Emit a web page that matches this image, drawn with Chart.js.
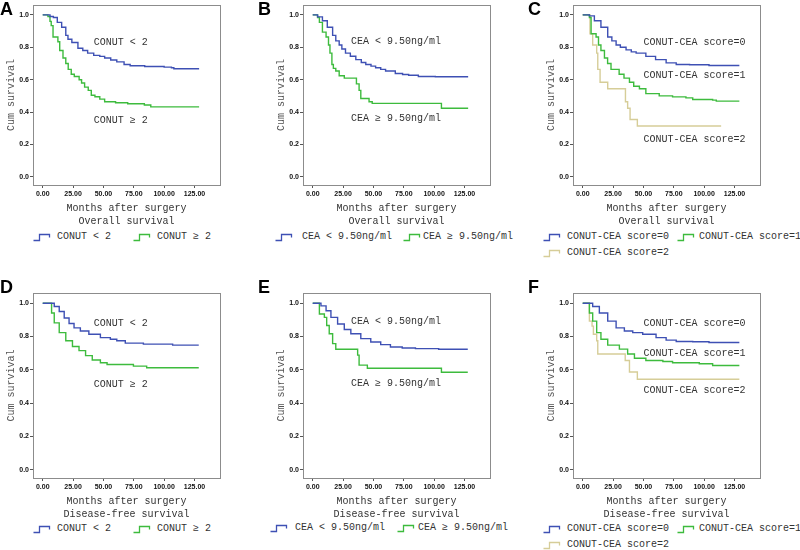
<!DOCTYPE html>
<html>
<head>
<meta charset="utf-8">
<script src="https://cdn.jsdelivr.net/npm/chart.js@4.4.1/dist/chart.umd.min.js"></script>
<style>
  body { margin: 0; background: #fff; }
  #wrap { position: relative; width: 800px; height: 550px; overflow: hidden; }
  canvas { position: absolute; }
  .letter { position: absolute; font: bold 18px "Liberation Sans", Arial, sans-serif; line-height: 18px; color: #000; }
  .leg { position: absolute; font: 10px "Liberation Mono", "Noto Sans CJK SC", monospace; color: #333; white-space: nowrap; line-height: 12px; }
  .leg svg { position: absolute; left: 0; top: 2px; }
  .leg span { position: absolute; white-space: nowrap; }
</style>
</head>
<body>
<div id="wrap">
  <canvas id="cA" width="222" height="228" style="left:0px;top:0px"></canvas>
  <canvas id="cB" width="222" height="228" style="left:270px;top:0px"></canvas>
  <canvas id="cC" width="222" height="228" style="left:540px;top:0px"></canvas>
  <canvas id="cD" width="222" height="233" style="left:0px;top:288px"></canvas>
  <canvas id="cE" width="222" height="233" style="left:270px;top:288px"></canvas>
  <canvas id="cF" width="222" height="233" style="left:540px;top:288px"></canvas>
</div>
<script>
// axis ticks
const xTicks = [0, 25, 50, 75, 100, 125];
const yTicks = [0, 0.2, 0.4, 0.6, 0.8, 1.0];

// group labels
const conutLabels = ['CONUT < 2', 'CONUT \u2265 2'];
const ceaLabels = ['CEA < 9.50ng/ml', 'CEA \u2265 9.50ng/ml'];
const scoreLabels = ['CONUT-CEA score=0', 'CONUT-CEA score=1', 'CONUT-CEA score=2'];

// A: overall survival by CONUT
const osConutLowT = [0, 6, 8.8, 12, 15.6, 19, 20.8, 24, 29, 33, 37, 42, 47, 51, 56, 61, 67, 72, 84, 100, 106, 108, 128.8];
const osConutLowS = [1, 0.99, 0.984, 0.954, 0.924, 0.874, 0.85, 0.83, 0.794, 0.78, 0.764, 0.75, 0.744, 0.734, 0.722, 0.71, 0.694, 0.686, 0.682, 0.678, 0.674, 0.668, 0.668];
const osConutHighT = [0, 4.3, 6, 7, 8.5, 12.5, 14, 16.7, 19, 21, 23.5, 26, 30, 32, 34.5, 37.5, 40, 43, 47, 51, 60, 70, 83.7, 89, 128.8];
const osConutHighS = [1, 0.99, 0.96, 0.934, 0.864, 0.834, 0.78, 0.734, 0.7, 0.664, 0.634, 0.62, 0.6, 0.58, 0.554, 0.534, 0.504, 0.495, 0.48, 0.464, 0.458, 0.452, 0.444, 0.432, 0.432];

// B: overall survival by CEA
const osCeaLowT = [0, 4, 8, 12, 16.4, 19, 21.8, 24, 27, 31, 35.5, 40, 43.7, 48, 51.8, 56, 60, 68, 74, 79, 87, 101, 128];
const osCeaLowS = [1, 0.988, 0.964, 0.924, 0.874, 0.84, 0.814, 0.79, 0.764, 0.745, 0.724, 0.706, 0.694, 0.684, 0.674, 0.664, 0.654, 0.638, 0.632, 0.628, 0.62, 0.618, 0.618];
const osCeaHighT = [0, 4, 5.5, 8, 11, 13, 14.2, 15.8, 17, 19, 21.8, 26, 34, 36, 38.2, 39.6, 46.4, 49, 105, 106, 128];
const osCeaHighS = [1, 0.984, 0.954, 0.894, 0.864, 0.814, 0.764, 0.694, 0.67, 0.654, 0.624, 0.61, 0.61, 0.574, 0.534, 0.484, 0.464, 0.454, 0.454, 0.424, 0.424];

// C: overall survival by CONUT-CEA score
const osScore0T = [0, 5.5, 9.6, 15, 20.6, 24, 27.5, 31, 35.7, 40, 44, 52, 60, 68.7, 77, 88, 104, 129];
const osScore0S = [1, 0.994, 0.964, 0.924, 0.864, 0.84, 0.814, 0.8, 0.784, 0.772, 0.764, 0.744, 0.724, 0.704, 0.694, 0.692, 0.688, 0.688];
const osScore1T = [0, 5.5, 6.9, 11, 13, 15, 17.9, 20.5, 23.3, 30, 34, 38.5, 42, 46.7, 52, 63, 74, 85, 90.6, 107, 110, 129];
const osScore1S = [1, 0.984, 0.884, 0.864, 0.814, 0.78, 0.734, 0.7, 0.664, 0.634, 0.61, 0.584, 0.56, 0.544, 0.514, 0.5, 0.494, 0.488, 0.478, 0.474, 0.468, 0.468];
const osScore2T = [0, 5.5, 6, 8.2, 11.5, 12.4, 14.3, 20.6, 35.2, 37, 39, 45, 114];
const osScore2S = [1, 1, 0.884, 0.814, 0.764, 0.664, 0.584, 0.544, 0.464, 0.424, 0.354, 0.314, 0.314];

// D: disease-free survival by CONUT
const dfsConutLowT = [0, 5.4, 9.5, 13.6, 17.7, 21.7, 25.8, 31, 38, 47.5, 55.7, 61, 68, 82.9, 107, 128.5];
const dfsConutLowS = [1, 1, 0.98, 0.95, 0.911, 0.878, 0.852, 0.833, 0.813, 0.793, 0.783, 0.774, 0.76, 0.754, 0.748, 0.748];
const dfsConutHighT = [0, 6, 7.3, 9.5, 13.6, 19, 24.5, 29.9, 35.3, 40.8, 47.5, 53, 74.7, 85.6, 128.5];
const dfsConutHighS = [1, 1, 0.941, 0.882, 0.823, 0.774, 0.74, 0.715, 0.685, 0.659, 0.642, 0.632, 0.622, 0.612, 0.612];

// E: disease-free survival by CEA
const dfsCeaLowT = [0, 4, 6.8, 11, 15, 20.5, 26, 31.4, 39.6, 47.8, 56, 64, 73.7, 84.6, 103.7, 127.7];
const dfsCeaLowS = [1, 1, 0.984, 0.955, 0.915, 0.875, 0.842, 0.816, 0.787, 0.767, 0.751, 0.737, 0.731, 0.727, 0.723, 0.723];
const dfsCeaHighT = [0, 5, 5.5, 9.6, 11.5, 13.6, 16.4, 19, 37, 38.2, 45, 105, 106, 127.7];
const dfsCeaHighS = [1, 1, 0.935, 0.915, 0.866, 0.816, 0.757, 0.723, 0.688, 0.628, 0.609, 0.609, 0.585, 0.585];

// F: disease-free survival by CONUT-CEA score
const dfsScore0T = [0, 5, 8.2, 13.7, 20.6, 27.5, 34.3, 41.2, 49.4, 60.4, 68.7, 77, 90.6, 104, 129];
const dfsScore0S = [1, 1, 0.98, 0.941, 0.892, 0.852, 0.833, 0.823, 0.813, 0.793, 0.778, 0.77, 0.768, 0.764, 0.764];
const dfsScore1T = [0, 5, 5.5, 8.2, 11.5, 15, 20.6, 30.2, 37, 42.6, 52, 66, 74, 96, 107, 129];
const dfsScore1S = [1, 1, 0.941, 0.892, 0.823, 0.783, 0.748, 0.724, 0.695, 0.669, 0.656, 0.65, 0.642, 0.636, 0.626, 0.626];
const dfsScore2T = [0, 5, 5.5, 7.7, 8.8, 11.5, 12.4, 35, 38.5, 45, 129];
const dfsScore2S = [1, 1, 0.892, 0.862, 0.813, 0.774, 0.695, 0.656, 0.587, 0.543, 0.543];

const BLUE = '#3e50b4';
const GREEN = '#3dbb3d';
const TAN = '#d6cd98';
const colors = [BLUE, GREEN, TAN];
const monoFont = '"Liberation Mono", "Noto Sans CJK SC", monospace';

function pts(t, s) { return t.map((v, i) => ({ x: v, y: s[i] })); }

function makePanel(id, curves, labels, notes, title) {
  const datasets = curves.map((c, i) => ({
    label: labels[i],
    data: pts(c[0], c[1]),
    borderColor: colors[i],
    borderWidth: 1.4,
    pointRadius: 0,
    stepped: 'before',
    fill: false
  }));
  const framePlugin = {
    id: 'frame',
    beforeDatasetsDraw(chart) {
      const a = chart.chartArea, ctx = chart.ctx;
      ctx.save();
      ctx.strokeStyle = '#8c8c8c';
      ctx.lineWidth = 1;
      ctx.strokeRect(Math.round(a.left) + 0.5, Math.round(a.top) + 0.5, Math.round(a.right - a.left), Math.round(a.bottom - a.top));
      ctx.restore();
    },
    afterDatasetsDraw(chart) {
      const ctx = chart.ctx, xs = chart.scales.x, ys = chart.scales.y;
      ctx.save();
      ctx.font = '10px ' + monoFont;
      ctx.fillStyle = '#333';
      ctx.textBaseline = 'middle';
      notes.forEach(n => ctx.fillText(n[0], xs.getPixelForValue(n[1]), ys.getPixelForValue(n[2])));
      ctx.restore();
    }
  };
  new Chart(document.getElementById(id), {
    type: 'line',
    data: { datasets },
    options: {
      responsive: false,
      animation: false,
      events: [],
      layout: { padding: { top: 1, left: 0, right: 2, bottom: 0 } },
      plugins: { legend: { display: false }, tooltip: { enabled: false } },
      scales: {
        x: {
          type: 'linear', min: -8, max: 146,
          afterBuildTicks: s => { s.ticks = xTicks.map(v => ({ value: v })); },
          afterFit: s => { s.height = 43; },
          grid: { drawOnChartArea: false, drawTicks: true, tickLength: 3, color: '#555' },
          border: { display: false },
          ticks: { autoSkip: false, maxRotation: 0, padding: 2, color: '#111',
            font: { family: '"Liberation Sans", Arial', size: 7, weight: 'bold' },
            callback: v => Number(v).toFixed(2) },
          title: { display: true, text: ['Months after surgery', title], color: '#333',
            font: { family: monoFont, size: 10, lineHeight: 1.3 }, padding: { top: 0, bottom: 0 } }
        },
        y: {
          type: 'linear', min: -0.05, max: 1.06,
          afterBuildTicks: s => { s.ticks = yTicks.map(v => ({ value: v })); },
          afterFit: s => { s.width = 33; },
          grid: { drawOnChartArea: false, drawTicks: true, tickLength: 3, color: '#555' },
          border: { display: false },
          ticks: { padding: 1, color: '#111',
            font: { family: '"Liberation Sans", Arial', size: 7, weight: 'bold' },
            callback: v => Number(v).toFixed(1) },
          title: { display: true, text: 'Cum survival', color: '#555',
            font: { family: monoFont, size: 10, lineHeight: 1.3 }, padding: { top: 5, bottom: 0 } }
        }
      }
    },
    plugins: [framePlugin]
  });
}

makePanel('cA', [[osConutLowT, osConutLowS], [osConutHighT, osConutHighS]], conutLabels,
  [[conutLabels[0], 42, 0.83], [conutLabels[1], 42, 0.35]], 'Overall survival');
makePanel('cB', [[osCeaLowT, osCeaLowS], [osCeaHighT, osCeaHighS]], ceaLabels,
  [[ceaLabels[0], 31.5, 0.838], [ceaLabels[1], 31.5, 0.36]], 'Overall survival');
makePanel('cC', [[osScore0T, osScore0S], [osScore1T, osScore1S], [osScore2T, osScore2S]], scoreLabels,
  [[scoreLabels[0], 50, 0.83], [scoreLabels[1], 50, 0.624], [scoreLabels[2], 50, 0.23]], 'Overall survival');
makePanel('cD', [[dfsConutLowT, dfsConutLowS], [dfsConutHighT, dfsConutHighS]], conutLabels,
  [[conutLabels[0], 42, 0.877], [conutLabels[1], 42, 0.513]], 'Disease-free survival');
makePanel('cE', [[dfsCeaLowT, dfsCeaLowS], [dfsCeaHighT, dfsCeaHighS]], ceaLabels,
  [[ceaLabels[0], 31.5, 0.888], [ceaLabels[1], 31.5, 0.52]], 'Disease-free survival');
makePanel('cF', [[dfsScore0T, dfsScore0S], [dfsScore1T, dfsScore1S], [dfsScore2T, dfsScore2S]], scoreLabels,
  [[scoreLabels[0], 50, 0.877], [scoreLabels[1], 50, 0.698], [scoreLabels[2], 50, 0.477]], 'Disease-free survival');

// panel letters
const wrap = document.getElementById('wrap');
[['A', 0, 0], ['B', 258, 0], ['C', 528, 0], ['D', 0, 278], ['E', 258, 278], ['F', 528, 278]].forEach(l => {
  const d = document.createElement('div');
  d.className = 'letter';
  d.textContent = l[0];
  d.style.left = l[1] + 'px';
  d.style.top = l[2] + 'px';
  wrap.appendChild(d);
});

// legend entry: label, colour, symbol x, text x, centre y
function legendItem(label, color, sx, tx, cy) {
  const d = document.createElement('div');
  d.className = 'leg';
  d.style.left = sx + 'px';
  d.style.top = (cy - 6) + 'px';
  d.innerHTML = '<svg width="18" height="9"><polyline points="0.5,7.5 6.5,7.5 6.5,1.5 16.5,1.5 16.5,4.5" fill="none" stroke="' +
    color + '" stroke-width="1.3"/></svg><span style="left:' + (tx - sx) + 'px;top:0">' + label + '</span>';
  wrap.appendChild(d);
}
legendItem(conutLabels[0], BLUE, 33, 57, 237);
legendItem(conutLabels[1], GREEN, 133, 157, 237);
legendItem(ceaLabels[0], BLUE, 275, 302, 237);
legendItem(ceaLabels[1], GREEN, 403, 423, 237);
legendItem(scoreLabels[0], BLUE, 543, 567, 237);
legendItem(scoreLabels[1], GREEN, 677, 699, 237);
legendItem(scoreLabels[2], TAN, 543, 567, 253);
legendItem(conutLabels[0], BLUE, 33, 57, 529);
legendItem(conutLabels[1], GREEN, 133, 157, 529);
legendItem(ceaLabels[0], BLUE, 270, 295, 528);
legendItem(ceaLabels[1], GREEN, 397, 418, 528);
legendItem(scoreLabels[0], BLUE, 543, 567, 529);
legendItem(scoreLabels[1], GREEN, 677, 699, 529);
legendItem(scoreLabels[2], TAN, 543, 567, 545);
</script>
</body>
</html>
